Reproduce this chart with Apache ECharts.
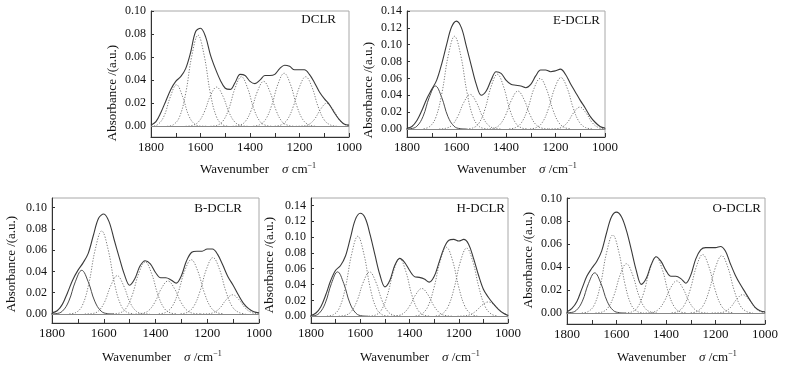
<!DOCTYPE html>
<html><head><meta charset="utf-8">
<script src="https://cdn.jsdelivr.net/npm/echarts@6/dist/echarts.min.js"></script>
<style>html,body{margin:0;padding:0;background:#fff}#c{width:793px;height:374px}</style>
</head><body><div id="c"></div>
<script>
// ---------- DATA ----------
const wavenumbers = [1800,1780,1760,1740,1720,1700,1680,1660,1640,1620,1600,1580,1560,1540,1520,1500,1480,1460,1440,1420,1400,1380,1360,1340,1320,1300,1280,1260,1240,1220,1200,1180,1160,1140,1120,1100,1080,1060,1040,1020,1000];
const xTickLabels = [1800,1600,1400,1200,1000];
const yTicks010 = [0,0.02,0.04,0.06,0.08,0.10];
const yTicks014 = [0,0.02,0.04,0.06,0.08,0.10,0.12,0.14];
const panelNames = ['DCLR','E-DCLR','B-DCLR','H-DCLR','O-DCLR'];

const dclrTotal = [.001,.004,.012,.022,.032,.039,.043,.050,.064,.082,.085,.078,.062,.050,.040,.033,.032,.038,.045,.044,.039,.037,.040,.044,.044,.045,.050,.053,.052,.049,.049,.049,.045,.038,.030,.024,.019,.012,.006,.002,.001];
const edclrTotal = [.001,.003,.010,.022,.036,.047,.058,.077,.100,.121,.128,.120,.098,.075,.053,.040,.045,.058,.068,.066,.058,.053,.052,.051,.049,.053,.063,.070,.070,.068,.069,.071,.065,.054,.044,.034,.025,.015,.008,.003,.001];
const bdclrTotal = [.001,.003,.009,.020,.032,.041,.048,.057,.074,.090,.094,.087,.070,.053,.037,.027,.033,.045,.050,.047,.039,.034,.034,.032,.029,.036,.050,.058,.059,.059,.061,.061,.056,.046,.035,.027,.018,.010,.005,.002,.001];
const hdclrTotal = [.001,.004,.012,.027,.045,.058,.064,.076,.099,.122,.130,.124,.103,.077,.052,.037,.045,.064,.073,.068,.058,.050,.049,.047,.043,.050,.068,.086,.096,.097,.095,.097,.091,.073,.052,.034,.024,.016,.009,.004,.001];
const odclrTotal = [.001,.004,.010,.021,.032,.039,.045,.054,.070,.084,.088,.084,.072,.055,.037,.025,.030,.042,.049,.045,.037,.032,.032,.030,.026,.033,.047,.055,.057,.057,.057,.058,.054,.043,.033,.025,.018,.011,.005,.002,.001];

// fitted bands: [wavenumber, absorbance]
const dclrBands = [
 [[1822,0],[1797,.0001],[1772,.0016],[1747,.009],[1722,.0255],[1697,.036],[1672,.0255],[1647,.009],[1622,.0016],[1597,.0001],[1572,0]],
 [[1735,0],[1710,.0013],[1685,.008],[1660,.0284],[1635,.0612],[1610,.079],[1585,.0612],[1560,.0284],[1535,.008],[1510,.0013],[1485,0]],
 [[1660,0],[1635,.0006],[1610,.0034],[1585,.0122],[1560,.0264],[1535,.034],[1510,.0264],[1485,.0122],[1460,.0034],[1435,.0006],[1410,0]],
 [[1560,0],[1535,.0007],[1510,.0043],[1485,.0155],[1460,.0333],[1435,.043],[1410,.0333],[1385,.0155],[1360,.0043],[1335,.0007],[1310,0]],
 [[1470,0],[1445,.0007],[1420,.0039],[1395,.014],[1370,.0302],[1345,.039],[1320,.0302],[1295,.014],[1270,.0039],[1245,.0007],[1220,0]],
 [[1387,.0001],[1362,.0012],[1337,.0059],[1312,.0184],[1287,.0366],[1262,.046],[1237,.0366],[1212,.0184],[1187,.0059],[1162,.0012],[1137,.0001]],
 [[1300,.0001],[1275,.0011],[1250,.0055],[1225,.0172],[1200,.0342],[1175,.043],[1150,.0342],[1125,.0172],[1100,.0055],[1075,.0011],[1050,.0001]],
 [[1215,0],[1190,.0002],[1165,.0013],[1140,.0059],[1115,.0147],[1090,.02],[1065,.0147],[1040,.0059],[1015,.0013],[990,.0002],[965,0]]
];
const edclrBands = [
 [[1810,0],[1785,.0004],[1760,.0033],[1735,.015],[1710,.0376],[1685,.051],[1660,.0376],[1635,.015],[1610,.0033],[1585,.0004],[1560,0]],
 [[1733,.0003],[1708,.0029],[1683,.0141],[1658,.0441],[1633,.0876],[1608,.11],[1583,.0876],[1558,.0441],[1533,.0141],[1508,.0029],[1483,.0003]],
 [[1670,0],[1645,.0007],[1620,.0041],[1595,.0148],[1570,.0318],[1545,.041],[1520,.0318],[1495,.0148],[1470,.0041],[1445,.0007],[1420,0]],
 [[1560,.0001],[1535,.0011],[1510,.0066],[1485,.0234],[1460,.0504],[1435,.065],[1410,.0504],[1385,.0234],[1360,.0066],[1335,.0011],[1310,.0001]],
 [[1477,0],[1452,.0008],[1427,.0045],[1402,.0162],[1377,.0349],[1352,.045],[1327,.0349],[1302,.0162],[1277,.0045],[1252,.0008],[1227,0]],
 [[1387,.0002],[1362,.0016],[1337,.0077],[1312,.0241],[1287,.0478],[1262,.06],[1237,.0478],[1212,.0241],[1187,.0077],[1162,.0016],[1137,.0002]],
 [[1303,.0002],[1278,.0016],[1253,.0078],[1228,.0245],[1203,.0486],[1178,.061],[1153,.0486],[1128,.0245],[1103,.0078],[1078,.0016],[1053,.0002]],
 [[1227,0],[1202,.0002],[1177,.0017],[1152,.0077],[1127,.0192],[1102,.026],[1077,.0192],[1052,.0077],[1027,.0017],[1002,.0002],[977,0]]
];
const bdclrBands = [
 [[1810,0],[1785,.0003],[1760,.0026],[1735,.0121],[1710,.0302],[1685,.041],[1660,.0302],[1635,.0121],[1610,.0026],[1585,.0003],[1560,0]],
 [[1733,.0002],[1708,.0013],[1683,.0079],[1658,.0281],[1633,.0605],[1608,.078],[1583,.0605],[1558,.0281],[1533,.0079],[1508,.0013],[1483,.0002]],
 [[1673,0],[1648,.0003],[1623,.0023],[1598,.0106],[1573,.0265],[1548,.036],[1523,.0265],[1498,.0106],[1473,.0023],[1448,.0003],[1423,0]],
 [[1565,.0001],[1540,.0008],[1515,.0049],[1490,.0176],[1465,.038],[1440,.049],[1415,.038],[1390,.0176],[1365,.0049],[1340,.0008],[1315,.0001]],
 [[1477,0],[1452,.0005],[1427,.0031],[1402,.0112],[1377,.024],[1352,.031],[1327,.024],[1302,.0112],[1277,.0031],[1252,.0005],[1227,0]],
 [[1387,.0002],[1362,.0013],[1337,.0065],[1312,.0205],[1287,.0406],[1262,.051],[1237,.0406],[1212,.0205],[1187,.0065],[1162,.0013],[1137,.0002]],
 [[1303,.0002],[1278,.0014],[1253,.0068],[1228,.0213],[1203,.0422],[1178,.053],[1153,.0422],[1128,.0213],[1103,.0068],[1078,.0014],[1053,.0002]],
 [[1227,0],[1202,.0001],[1177,.0012],[1152,.0053],[1127,.0133],[1102,.018],[1077,.0133],[1052,.0053],[1027,.0012],[1002,.0001],[977,0]]
];
const hdclrBands = [
 [[1817,0],[1792,.0004],[1767,.0036],[1742,.0165],[1717,.0413],[1692,.056],[1667,.0413],[1642,.0165],[1617,.0036],[1592,.0004],[1567,0]],
 [[1735,.0002],[1710,.0017],[1685,.0102],[1660,.0364],[1635,.0783],[1610,.101],[1585,.0783],[1560,.0364],[1535,.0102],[1510,.0017],[1485,.0002]],
 [[1687,.0001],[1662,.001],[1637,.0057],[1612,.0202],[1587,.0434],[1562,.056],[1537,.0434],[1512,.0202],[1487,.0057],[1462,.001],[1437,.0001]],
 [[1565,.0001],[1540,.0012],[1515,.0074],[1490,.0263],[1465,.0566],[1440,.073],[1415,.0566],[1390,.0263],[1365,.0074],[1340,.0012],[1315,.0001]],
 [[1475,0],[1450,.0006],[1425,.0035],[1400,.0126],[1375,.0271],[1350,.035],[1325,.0271],[1300,.0126],[1275,.0035],[1250,.0006],[1225,0]],
 [[1375,.0003],[1350,.0027],[1325,.0124],[1300,.0366],[1275,.0701],[1250,.087],[1225,.0701],[1200,.0366],[1175,.0124],[1150,.0027],[1125,.0003]],
 [[1293,.0003],[1268,.0027],[1243,.0123],[1218,.0362],[1193,.0693],[1168,.086],[1143,.0693],[1118,.0362],[1093,.0123],[1068,.0027],[1043,.0003]],
 [[1205,0],[1180,.0003],[1155,.0018],[1130,.0065],[1105,.014],[1080,.018],[1055,.014],[1030,.0065],[1005,.0018],[980,.0003],[955,0]]
];
const odclrBands = [
 [[1813,0],[1788,.0003],[1763,.0022],[1738,.0103],[1713,.0258],[1688,.035],[1663,.0258],[1638,.0103],[1613,.0022],[1588,.0003],[1563,0]],
 [[1740,.0001],[1715,.0012],[1690,.0069],[1665,.0245],[1640,.0527],[1615,.068],[1590,.0527],[1565,.0245],[1540,.0069],[1515,.0012],[1490,.0001]],
 [[1685,0],[1660,.0007],[1635,.0043],[1610,.0155],[1585,.0333],[1560,.043],[1535,.0333],[1510,.0155],[1485,.0043],[1460,.0007],[1435,0]],
 [[1565,.0001],[1540,.0008],[1515,.0049],[1490,.0176],[1465,.038],[1440,.049],[1415,.038],[1390,.0176],[1365,.0049],[1340,.0008],[1315,.0001]],
 [[1482,0],[1457,.0005],[1432,.0028],[1407,.0101],[1382,.0217],[1357,.028],[1332,.0217],[1307,.0101],[1282,.0028],[1257,.0005],[1232,0]],
 [[1377,.0002],[1352,.0013],[1327,.0065],[1302,.0205],[1277,.0406],[1252,.051],[1227,.0406],[1202,.0205],[1177,.0065],[1152,.0013],[1127,.0002]],
 [[1300,.0002],[1275,.0013],[1250,.0064],[1225,.0201],[1200,.0398],[1175,.05],[1150,.0398],[1125,.0201],[1100,.0064],[1075,.0013],[1050,.0002]],
 [[1215,0],[1190,.0001],[1165,.001],[1140,.0047],[1115,.0118],[1090,.016],[1065,.0118],[1040,.0047],[1015,.001],[990,.0001],[965,0]]
];

// ---------- LAYOUT ----------
const FONT = '"Liberation Serif","Times New Roman",serif';
const panels = [
 {name:panelNames[0], total:dclrTotal, bands:dclrBands, g:{left:151,top:11,width:198,height:126}, ymin:-0.0093, ymax:0.10, yt:yTicks010, unit:' cm', yn:[113,93], xn:[200,170], tp:[336,20], solidFirst:false},
 {name:panelNames[1], total:edclrTotal, bands:edclrBands, g:{left:407,top:11,width:198,height:126}, ymin:-0.0095, ymax:0.14, yt:yTicks014, unit:' /cm', yn:[369,90], xn:[457,170], tp:[600,21], solidFirst:true},
 {name:panelNames[2], total:bdclrTotal, bands:bdclrBands, g:{left:52,top:198,width:207,height:125}, ymin:-0.0085, ymax:0.109, yt:yTicks010, unit:' /cm', yn:[12,264], xn:[102,358], tp:[242,209], solidFirst:true},
 {name:panelNames[3], total:hdclrTotal, bands:hdclrBands, g:{left:311,top:198,width:197,height:125}, ymin:-0.0086, ymax:0.1493, yt:yTicks014, unit:' /cm', yn:[270,265], xn:[360,358], tp:[505,209], solidFirst:true},
 {name:panelNames[4], total:odclrTotal, bands:odclrBands, g:{left:567,top:198,width:198,height:126}, ymin:-0.0096, ymax:0.1003, yt:yTicks010, unit:' /cm', yn:[529,260], xn:[617,358], tp:[761,209], solidFirst:true}
];

const grid = [], xAxis = [], yAxis = [], series = [], graphic = [];
panels.forEach((p, i) => {
  grid.push(Object.assign({show:true, borderColor:'#a8a8a8', borderWidth:1, backgroundColor:'transparent'}, p.g));
  xAxis.push({
    gridIndex:i, type:'value', min:xTickLabels[4], max:xTickLabels[0], interval:200, inverse:true,
    axisLine:{show:true, onZero:false, lineStyle:{color:'#333', width:1}},
    axisTick:{show:true, inside:true, length:4, lineStyle:{color:'#333'}},
    minorTick:{show:true, splitNumber:2, length:4, lineStyle:{color:'#333'}},
    splitLine:{show:false},
    axisLabel:{color:'#111', fontFamily:FONT, fontSize:13, margin:4, formatter:v => String(v)}
  });
  yAxis.push({
    gridIndex:i, type:'value', min:p.ymin, max:p.ymax,
    axisLine:{show:true, onZero:false, lineStyle:{color:'#333', width:1}},
    axisTick:{show:true, inside:true, length:3, customValues:p.yt, lineStyle:{color:'#333'}},
    splitLine:{show:false},
    axisLabel:{customValues:p.yt, formatter:v => v.toFixed(2), color:'#111', fontFamily:FONT, fontSize:12, margin:5}
  });
  p.bands.forEach((b, k) => {
    const solid = p.solidFirst && k === 0;
    series.push({
      type:'line', xAxisIndex:i, yAxisIndex:i, data:b, showSymbol:false, smooth:0.4, silent:true, z:2,
      lineStyle:{color: solid ? '#4a4a4a' : '#7a7a7a', width: solid ? 1 : 1, type: solid ? 'solid' : [1.2, 1.6]}
    });
  });
  series.push({
    type:'line', xAxisIndex:i, yAxisIndex:i, data:wavenumbers.map((w, k) => [w, p.total[k]]),
    showSymbol:false, smooth:0.35, silent:true, z:3,
    lineStyle:{color:'#3a3a3a', width:1.1},
    markLine:{silent:true, symbol:'none', label:{show:false}, lineStyle:{color:'#888', type:'solid', width:1}, data:[{yAxis:0}]}
  });
  graphic.push({type:'text', x:p.tp[0], y:p.tp[1], style:{text:p.name, align:'right', verticalAlign:'middle', fontFamily:FONT, fontSize:13, fill:'#111'}});
  graphic.push({type:'text', x:p.yn[0], y:p.yn[1], rotation:Math.PI/2, style:{text:'Absorbance /(a.u.)', align:'center', verticalAlign:'middle', fontFamily:FONT, fontSize:13, fill:'#111'}});
  graphic.push({type:'text', x:p.xn[0], y:p.xn[1], style:{
    text:'{t|Wavenumber}{t|    }{i|σ}{t|' + p.unit + '}{s|−1}', align:'left', verticalAlign:'middle',
    rich:{
      t:{fontFamily:FONT, fontSize:13, fill:'#111', lineHeight:16},
      i:{fontFamily:FONT, fontSize:13, fontStyle:'italic', fill:'#111', lineHeight:16},
      s:{fontFamily:FONT, fontSize:8, fill:'#111', lineHeight:10, verticalAlign:'top'}
    }
  }});
});

const chart = echarts.init(document.getElementById('c'), null, {renderer:'canvas'});
chart.setOption({animation:false, backgroundColor:'#fff', grid, xAxis, yAxis, series, graphic});
</script>
</body></html>
